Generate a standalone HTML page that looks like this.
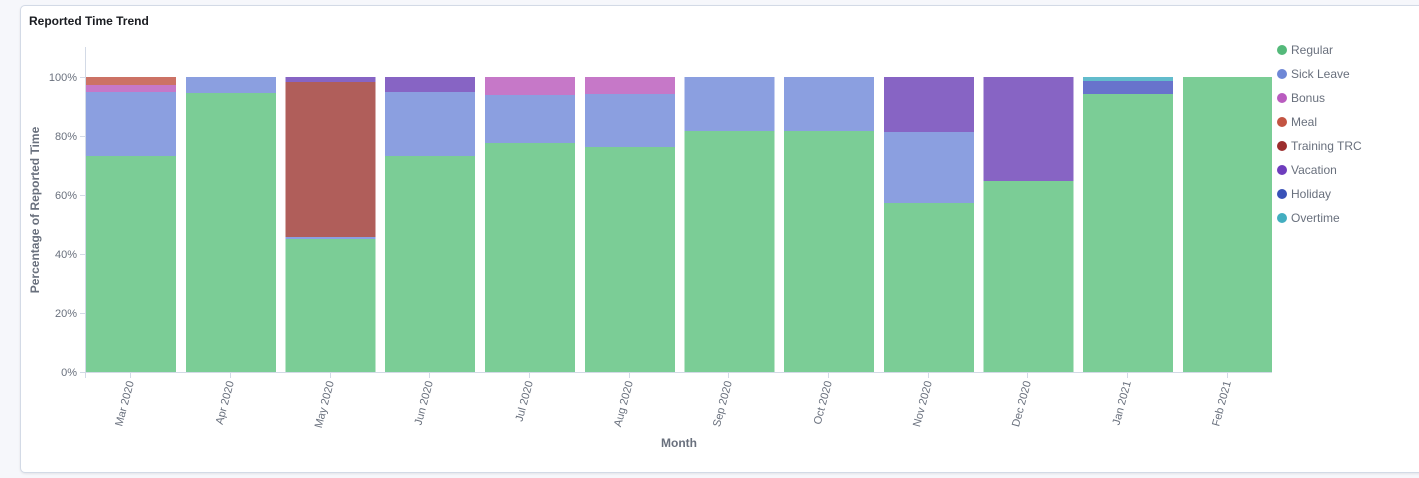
<!DOCTYPE html>
<html><head><meta charset="utf-8"><style>
body{margin:0;background:#f6f7fb;width:1419px;height:478px;overflow:hidden;font-family:"Liberation Sans",sans-serif}
.card{position:absolute;left:20px;top:5px;width:1410px;height:466px;background:#fff;border:1px solid #d3dae6;border-radius:5px;box-shadow:0 1px 2px rgba(0,0,0,.08)}
</style></head><body>
<div class="card"></div>
<svg width="1419" height="478" style="position:absolute;left:0;top:0" font-family="Liberation Sans, sans-serif">
<text x="29" y="25" font-size="12" font-weight="bold" fill="#1a1c21">Reported Time Trend</text>
<g stroke="#d3dae6" stroke-width="1">
<line x1="85.5" y1="47" x2="85.5" y2="378"/>
<line x1="80" y1="372.5" x2="1272" y2="372.5"/>
<line x1="80" y1="77.5" x2="86" y2="77.5"/><line x1="80" y1="136.5" x2="86" y2="136.5"/><line x1="80" y1="195.5" x2="86" y2="195.5"/><line x1="80" y1="254.5" x2="86" y2="254.5"/><line x1="80" y1="313.5" x2="86" y2="313.5"/>
</g>
<g font-size="11" fill="#69707d" text-anchor="end">
<text x="77" y="81">100%</text><text x="77" y="140">80%</text><text x="77" y="199">60%</text><text x="77" y="258">40%</text><text x="77" y="317">20%</text><text x="77" y="376">0%</text>
</g>
<text transform="translate(39,210) rotate(-90)" text-anchor="middle" font-size="12" font-weight="bold" fill="#69707d">Percentage of Reported Time</text>
<text x="679" y="447" text-anchor="middle" font-size="12" font-weight="bold" fill="#69707d">Month</text>
<g id="bars">
<!-- Mar -->
<rect x="86" y="156" width="90" height="216" fill="#7bcd96"/><rect x="86" y="92" width="90" height="64" fill="#8b9fe0"/><rect x="86" y="85" width="90" height="7" fill="#c678c8"/><rect x="86" y="77" width="90" height="8" fill="#cc7265"/>
<!-- Apr -->
<rect x="186" y="93" width="90" height="279" fill="#7bcd96"/><rect x="186" y="77" width="90" height="16" fill="#8b9fe0"/>
<!-- May -->
<rect x="285.5" y="239" width="90" height="133" fill="#7bcd96"/><rect x="285.5" y="237" width="90" height="2" fill="#8b9fe0"/><rect x="285.5" y="82" width="90" height="155" fill="#b05e5a"/><rect x="285.5" y="77" width="90" height="5" fill="#8764c4"/>
<!-- Jun -->
<rect x="385" y="156" width="90" height="216" fill="#7bcd96"/><rect x="385" y="92" width="90" height="64" fill="#8b9fe0"/><rect x="385" y="77" width="90" height="15" fill="#8764c4"/>
<!-- Jul -->
<rect x="485" y="143" width="90" height="229" fill="#7bcd96"/><rect x="485" y="95" width="90" height="48" fill="#8b9fe0"/><rect x="485" y="77" width="90" height="18" fill="#c678c8"/>
<!-- Aug -->
<rect x="585" y="147" width="90" height="225" fill="#7bcd96"/><rect x="585" y="94" width="90" height="53" fill="#8b9fe0"/><rect x="585" y="77" width="90" height="17" fill="#c678c8"/>
<!-- Sep -->
<rect x="684.5" y="131" width="90" height="241" fill="#7bcd96"/><rect x="684.5" y="77" width="90" height="54" fill="#8b9fe0"/>
<!-- Oct -->
<rect x="784" y="131" width="90" height="241" fill="#7bcd96"/><rect x="784" y="77" width="90" height="54" fill="#8b9fe0"/>
<!-- Nov -->
<rect x="884" y="203" width="90" height="169" fill="#7bcd96"/><rect x="884" y="132" width="90" height="71" fill="#8b9fe0"/><rect x="884" y="77" width="90" height="55" fill="#8764c4"/>
<!-- Dec -->
<rect x="983.5" y="181" width="90" height="191" fill="#7bcd96"/><rect x="983.5" y="77" width="90" height="104" fill="#8764c4"/>
<!-- Jan -->
<rect x="1083" y="94" width="90" height="278" fill="#7bcd96"/><rect x="1083" y="81" width="90" height="13" fill="#6873cc"/><rect x="1083" y="77" width="90" height="4" fill="#62bccc"/>
<!-- Feb -->
<rect x="1183" y="77" width="89" height="295" fill="#7bcd96"/>
</g>
<g stroke="#d3dae6">
<line x1="130.5" y1="373" x2="130.5" y2="378"/><line x1="230.5" y1="373" x2="230.5" y2="378"/><line x1="330.5" y1="373" x2="330.5" y2="378"/><line x1="429.5" y1="373" x2="429.5" y2="378"/><line x1="529.5" y1="373" x2="529.5" y2="378"/><line x1="629.5" y1="373" x2="629.5" y2="378"/><line x1="728.5" y1="373" x2="728.5" y2="378"/><line x1="828.5" y1="373" x2="828.5" y2="378"/><line x1="928.5" y1="373" x2="928.5" y2="378"/><line x1="1027.5" y1="373" x2="1027.5" y2="378"/><line x1="1127.5" y1="373" x2="1127.5" y2="378"/><line x1="1227.5" y1="373" x2="1227.5" y2="378"/>
</g>
<g font-size="11" fill="#69707d" text-anchor="end">
<text transform="translate(134,382) rotate(-75)">Mar 2020</text>
<text transform="translate(234,382) rotate(-75)">Apr 2020</text>
<text transform="translate(334,382) rotate(-75)">May 2020</text>
<text transform="translate(433,382) rotate(-75)">Jun 2020</text>
<text transform="translate(533,382) rotate(-75)">Jul 2020</text>
<text transform="translate(633,382) rotate(-75)">Aug 2020</text>
<text transform="translate(732,382) rotate(-75)">Sep 2020</text>
<text transform="translate(832,382) rotate(-75)">Oct 2020</text>
<text transform="translate(932,382) rotate(-75)">Nov 2020</text>
<text transform="translate(1031,382) rotate(-75)">Dec 2020</text>
<text transform="translate(1131,382) rotate(-75)">Jan 2021</text>
<text transform="translate(1231,382) rotate(-75)">Feb 2021</text>
</g>
<g font-size="12" fill="#69707d">
<circle cx="1282" cy="50" r="5" fill="#54b97a"/><text x="1291" y="54">Regular</text>
<circle cx="1282" cy="74" r="5" fill="#6e87d6"/><text x="1291" y="78">Sick Leave</text>
<circle cx="1282" cy="98" r="5" fill="#b95cbf"/><text x="1291" y="102">Bonus</text>
<circle cx="1282" cy="122" r="5" fill="#c35442"/><text x="1291" y="126">Meal</text>
<circle cx="1282" cy="146" r="5" fill="#9c2e2e"/><text x="1291" y="150">Training TRC</text>
<circle cx="1282" cy="170" r="5" fill="#6e3dbd"/><text x="1291" y="174">Vacation</text>
<circle cx="1282" cy="194" r="5" fill="#3a52b8"/><text x="1291" y="198">Holiday</text>
<circle cx="1282" cy="218" r="5" fill="#43aec0"/><text x="1291" y="222">Overtime</text>
</g>
</svg>
</body></html>
